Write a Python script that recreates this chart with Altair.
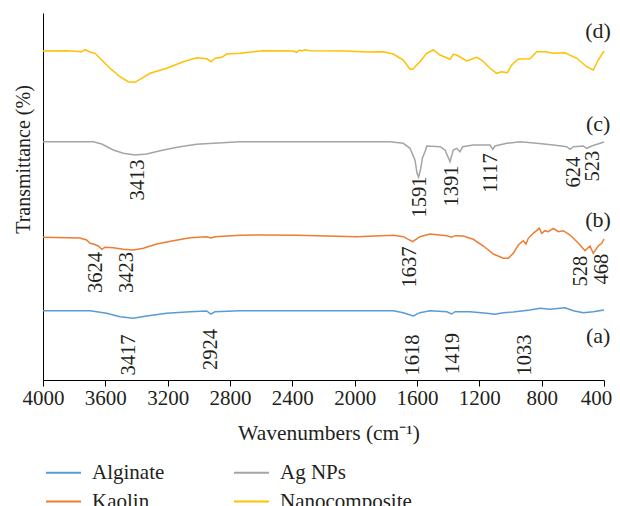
import altair as alt
import pandas as pd

FONT = "Liberation Serif"
TXT = "#231f20"

names = ["Alginate", "Kaolin", "Ag NPs", "Nanocomposite"]
colors = ["#5B9BD5", "#ED7D31", "#A5A5A5", "#FFC000"]

# Nanocomposite (d)
nano_wn = [4000, 3848, 3752, 3730, 3698, 3666, 3634, 3570, 3506, 3453, 3410, 3367, 3313, 3206, 3100, 3014,
           2950, 2922, 2896, 2853, 2821, 2736, 2586, 2394, 2372, 2355, 2340, 2319, 2287, 2051, 1923, 1816,
           1752, 1688, 1645, 1628, 1581, 1538, 1495, 1452, 1388, 1367, 1345, 1281, 1217, 1185, 1131, 1089,
           1057, 1020, 992, 950, 875, 832, 779, 725, 650, 575, 511, 469, 437, 400]
nano_t = [329, 329.3, 328.3, 330.3, 328, 326.7, 321.7, 311.7, 303.3, 298.3, 297.7, 301.7, 306.7, 311.7, 318.3, 322.3,
          321.3, 318.3, 321.7, 322.7, 326, 326.7, 329.3, 329, 327.7, 330, 329, 330.3, 329.3, 329, 328, 328.3,
          326, 320, 310.7, 310.7, 318.3, 326.7, 330, 325, 320.7, 325.7, 325, 319, 322.7, 320, 311.7, 306.7,
          308.3, 307.3, 315, 321, 321.3, 328.3, 328.3, 326.7, 327.3, 321.7, 313.3, 310, 320, 329]

# Ag NPs (c)
ag_wn = [4000, 3677, 3623, 3549, 3485, 3410, 3335, 3228, 3121, 3014, 2907, 2736, 2400, 2000, 1773, 1688,
         1645, 1613, 1600, 1590, 1578, 1565, 1547, 1538, 1452, 1420, 1388, 1367, 1345, 1324, 1307, 1239,
         1131, 1114, 1099, 1024, 939, 832, 725, 639, 618, 597, 533, 511, 479, 400]
ag_t = [238.3, 238.3, 236, 230, 226.7, 225, 226, 230, 233.3, 235.7, 236.7, 238.3, 238.3, 238.3, 238.3, 236.7,
        231.7, 220, 207, 203, 210, 222, 229, 234, 233.3, 230, 218.3, 230, 231.7, 228.3, 233.3, 235,
        235, 230.7, 234, 236.7, 238.3, 236.7, 235, 233.3, 230.7, 233.3, 234, 231.7, 234, 238]

# Kaolin (b)
kao_wn = [4000, 3763, 3720, 3698, 3677, 3645, 3623, 3602, 3549, 3485, 3421, 3356, 3270, 3164, 3057, 2950,
          2922, 2896, 2736, 2586, 2372, 1987, 1752, 1688, 1628, 1581, 1517, 1409, 1377, 1356, 1303, 1239,
          1174, 1110, 1046, 1014, 982, 950, 918, 900, 886, 854, 815, 800, 779, 757, 725, 693, 661, 618,
          564, 522, 490, 469, 437, 415, 400]
kao_t = [142.7, 142, 140, 136.7, 136, 134, 130.7, 132.7, 132.3, 130.7, 130, 131.7, 136, 139.3, 142.3, 143.3,
         142, 143.3, 144.7, 145, 144.7, 143.3, 144.7, 143.3, 138.3, 143.3, 146, 144.3, 142.7, 144.3, 144, 140.7,
         134, 126, 121.7, 121.7, 126.7, 135, 139.3, 136, 141.7, 146.7, 151.7, 146.7, 149.3, 148.3, 151.7, 148.3, 149.3, 145,
         136.7, 129.3, 134, 126.7, 134, 136.7, 141]

# Alginate (a)
alg_wn = [4000, 3698, 3591, 3506, 3421, 3335, 3206, 3057, 2950, 2922, 2896, 2736, 2400, 1752, 1688, 1624,
          1581, 1517, 1409, 1377, 1356, 1260, 1153, 1099, 1046, 982, 875, 811, 747, 650, 597, 533, 469, 400]
alg_t = [69.3, 69.3, 66.7, 63.3, 61.7, 64, 66.7, 68.3, 69, 66, 68.3, 69.3, 69.3, 69.3, 67.3, 64,
         67.3, 69.3, 68.3, 66, 68.3, 68.3, 66.7, 65.7, 67.3, 68, 70, 71.7, 70.7, 72.3, 69.3, 67.3, 68.3, 70]

# peak annotations: text, anchor wavenumber, anchor level
peak_text = ["3413", "1591", "1391", "1117", "624", "523",
             "3624", "3423", "1637", "528", "468",
             "3417", "2924", "1618", "1419", "1033"]
peak_wn = [3390, 1578, 1375, 1122, 592, 471,
           3663, 3458, 1645, 547, 410,
           3448, 2925, 1626, 1369, 907]
peak_t = [200, 183, 194, 207, 208, 214,
          107.5, 107.5, 113, 109, 111,
          25, 30.5, 25, 26.5, 25]

tag_text = ["(d)", "(c)", "(b)", "(a)"]
tag_wn = [438, 438, 438, 438]
tag_t = [349, 256, 160, 44]

x_ticks = [4000, 3600, 3200, 2800, 2400, 2000, 1600, 1200, 800, 400]

frames = []
for nm, wn, t in [("Nanocomposite", nano_wn, nano_t), ("Ag NPs", ag_wn, ag_t),
                  ("Kaolin", kao_wn, kao_t), ("Alginate", alg_wn, alg_t)]:
    frames.append(pd.DataFrame({"wn": wn, "t": t, "series": nm}))
df = pd.concat(frames, ignore_index=True)

peaks = pd.DataFrame({"label": peak_text, "wn": peak_wn, "t": peak_t})
tags = pd.DataFrame({"label": tag_text, "wn": tag_wn, "t": tag_t})

x_scale = alt.Scale(domain=[400, 4000], reverse=True, nice=False, zero=False)
y_scale = alt.Scale(domain=[0, 367], nice=False, zero=False)

lines = alt.Chart(df).mark_line(strokeWidth=1.5).encode(
    x=alt.X("wn:Q", scale=x_scale,
            axis=alt.Axis(values=x_ticks, title="Wavenumbers (cm⁻¹)", grid=False,
                          tickSize=6, tickColor="black", domainColor="black", labelFlush=False,
                          labelPadding=1, format="d", labelFontSize=21, titleFontSize=21.5,
                          labelOffset={"condition": {"test": "datum.value == 400", "value": -8}, "value": 0},
                          titleX=285.5, titleY=59, titleAlign="center", titleBaseline="alphabetic")),
    y=alt.Y("t:Q", scale=y_scale,
            axis=alt.Axis(title="Transmittance (%)", labels=False, ticks=False, grid=False,
                          domainColor="black", titleX=-20, titleY=146, titleAngle=270,
                          titleAlign="center", titleBaseline="middle")),
    color=alt.Color("series:N", scale=alt.Scale(domain=names, range=colors),
                    legend=alt.Legend(title=None, orient="none", legendX=2, legendY=441,
                                      columns=2, symbolType="stroke", symbolSize=1225,
                                      symbolStrokeWidth=2, labelOffset=10, columnPadding=65,
                                      rowPadding=0, labelFontSize=21, labelFont=FONT,
                                      labelColor=TXT, padding=0)),
)

peak_marks = alt.Chart(peaks).mark_text(angle=270, fontSize=20.5, font=FONT, color=TXT,
                                        align="center", baseline="middle").encode(
    x=alt.X("wn:Q", scale=x_scale), y=alt.Y("t:Q", scale=y_scale), text="label:N")

tag_marks = alt.Chart(tags).mark_text(fontSize=22, font=FONT, color=TXT,
                                      align="center", baseline="middle").encode(
    x=alt.X("wn:Q", scale=x_scale), y=alt.Y("t:Q", scale=y_scale), text="label:N")

chart = alt.layer(lines, peak_marks, tag_marks).properties(
    width=561, height=367,
    padding={"left": 35, "top": 5, "right": 8, "bottom": 126},
    autosize=alt.AutoSizeParams(type="none"),
).configure_view(strokeWidth=0).configure_axis(
    labelFont=FONT, labelFontSize=20, labelColor=TXT,
    titleFont=FONT, titleFontSize=20, titleColor=TXT, titleFontWeight="normal",
    domainWidth=1,
)

chart.save("out.html", embed_options={"renderer": "svg", "actions": False})
